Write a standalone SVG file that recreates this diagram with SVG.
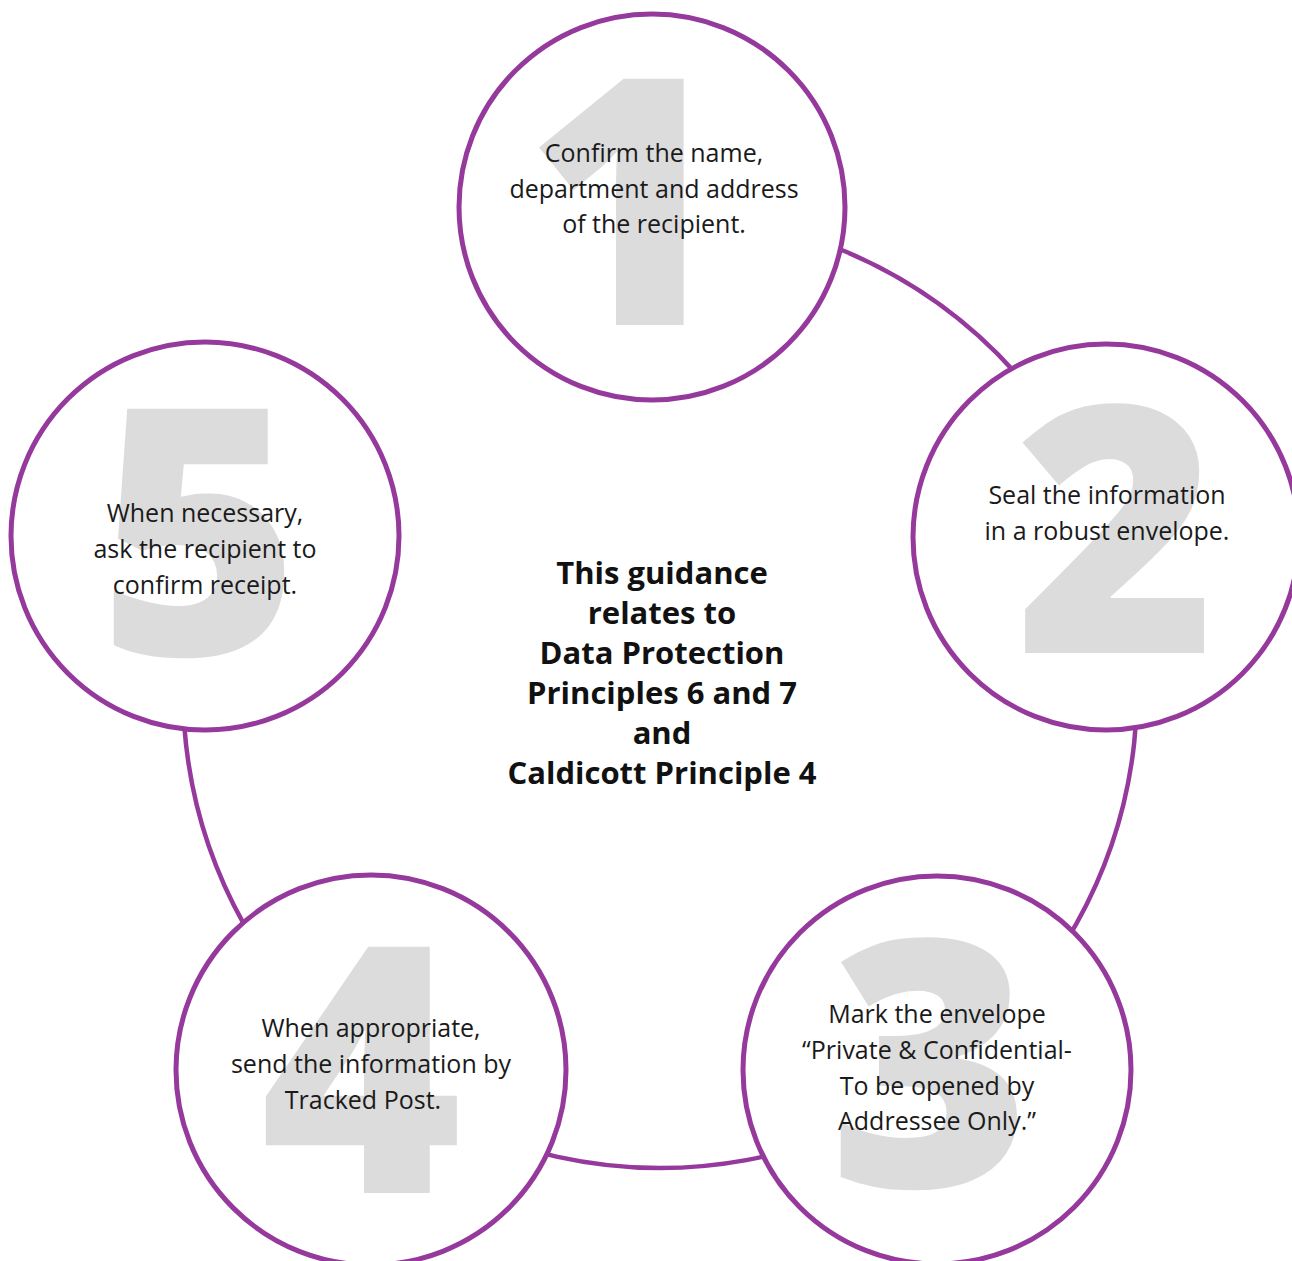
<svg xmlns="http://www.w3.org/2000/svg" width="1292" height="1261" viewBox="0 0 1292 1261">
<style>
.ring{fill:none;stroke:#96399c;stroke-width:4.5}
.node{fill:#ffffff;stroke:#96399c;stroke-width:5}
.digit{font-family:"Open Sans","Liberation Sans",sans-serif;font-weight:800;font-size:345px;fill:#dcdcdc;text-anchor:middle}
.lbl{font-family:"Open Sans","Liberation Sans",sans-serif;font-size:25px;fill:#1a1a1a;text-anchor:middle}
.ctr{font-family:"Open Sans","Liberation Sans",sans-serif;font-weight:bold;font-size:31px;fill:#111111;text-anchor:middle}
</style>
<rect width="1292" height="1261" fill="#ffffff"/>
<g id="connectors">
<path class="ring" d="M 660 214 A 477 477 0 1 1 208.5 537.2"/>
</g>
<g id="center">
<text class="ctr" x="662" y="584">This guidance</text>
<text class="ctr" x="662" y="624">relates to</text>
<text class="ctr" x="662" y="664">Data Protection</text>
<text class="ctr" x="662" y="704">Principles 6 and 7</text>
<text class="ctr" x="662" y="744">and</text>
<text class="ctr" x="662" y="784">Caldicott Principle 4</text>
</g>
<g id="node1">
<circle class="node" cx="652" cy="207" r="193"/>
<text class="digit" x="626" y="325">1</text>
<text class="lbl" x="654" y="162">Confirm the name,</text>
<text class="lbl" x="654" y="198">department and address</text>
<text class="lbl" x="654" y="233">of the recipient.</text>
</g>
<g id="node2">
<circle class="node" cx="1106" cy="537" r="193"/>
<text class="digit" x="1116" y="653">2</text>
<text class="lbl" x="1107" y="504">Seal the information</text>
<text class="lbl" x="1107" y="540">in a robust envelope.</text>
</g>
<g id="node3">
<circle class="node" cx="937" cy="1070" r="194"/>
<text class="digit" x="930" y="1187">3</text>
<text class="lbl" x="937" y="1023">Mark the envelope</text>
<text class="lbl" x="937" y="1059">“Private &amp; Confidential-</text>
<text class="lbl" x="937" y="1095">To be opened by</text>
<text class="lbl" x="937" y="1130">Addressee Only.”</text>
</g>
<g id="node4">
<circle class="node" cx="371" cy="1070" r="195"/>
<text class="digit" x="361" y="1193">4</text>
<text class="lbl" x="371" y="1037">When appropriate,</text>
<text class="lbl" x="371" y="1073">send the information by</text>
<text class="lbl" x="363" y="1109">Tracked Post.</text>
</g>
<g id="node5">
<circle class="node" cx="205" cy="536" r="194"/>
<text class="digit" x="199" y="655">5</text>
<text class="lbl" x="205" y="522">When necessary,</text>
<text class="lbl" x="205" y="558">ask the recipient to</text>
<text class="lbl" x="205" y="594">confirm receipt.</text>
</g>
</svg>
